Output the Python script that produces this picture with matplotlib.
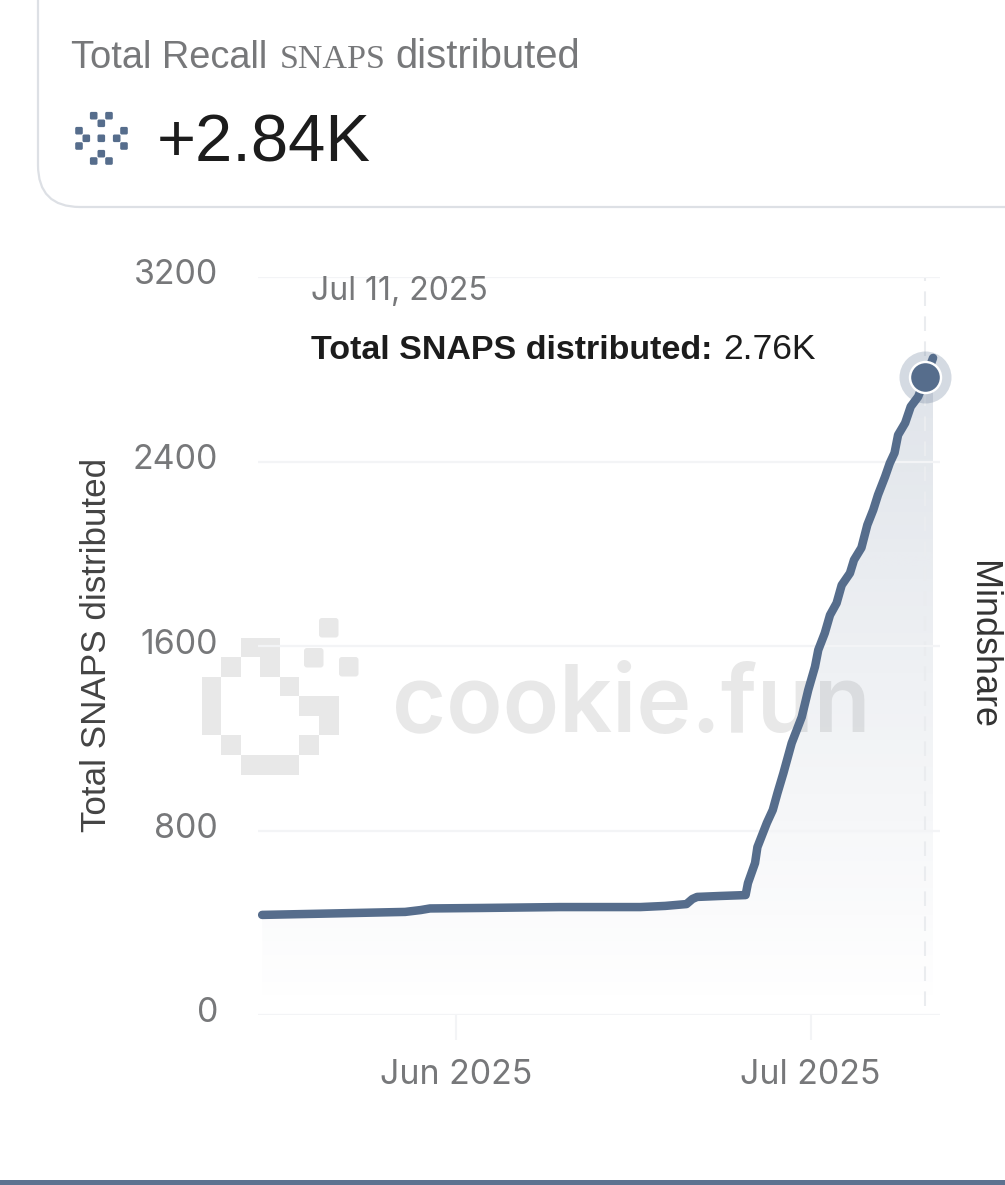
# -*- coding: utf-8 -*-
import pandas as pd
import numpy as np
import matplotlib
matplotlib.use('Agg')
import matplotlib.pyplot as plt
import matplotlib.dates as mdates
from matplotlib.patches import FancyBboxPatch, Rectangle
from matplotlib.transforms import ScaledTranslation

# Chart values
day_offset = [-16.4, -9.8, -4.3, -3.0, -2.2, 2.0, 8.8, 15.6, 17.7, 19.5, 20.0, 20.4, 22.3,
              24.5, 24.7, 25.3, 25.5, 26.3, 26.8, 27.2, 27.7, 28.4, 29.25, 29.8, 30.37,
              30.65, 31.2, 31.64, 32.2, 32.63, 33.33, 33.67, 34.3, 34.8, 35.3, 35.7, 36.3,
              36.7, 37.1, 37.4, 38.0, 38.47, 39.1, 39.75, 40.36]
snaps_total = [434, 441, 447, 455, 462, 464, 468, 468, 473, 481, 503, 512, 516,
               520, 572, 659, 728, 833, 889, 963, 1049, 1179, 1292, 1409, 1510,
               1583, 1656, 1734, 1786, 1864, 1916, 1973, 2026, 2125, 2190, 2255, 2334,
               2393, 2437, 2515, 2567, 2638, 2681, 2766, 2849]
y_ticks = [0, 800, 1600, 2400, 3200]
x_ticks = ['2025-06-01', '2025-07-01']
hover_offset = 39.72
hover_value = 2765

W, H = 1005, 1185
LINE = '#566d8c'
GRID = '#f3f4f6'
GREY = '#77787a'
DARK = '#1c1c1c'
SANS = 'Liberation Sans'
px = 0.72  # pixels to points at dpi 100

dates = pd.Timestamp('2025-06-01') + pd.to_timedelta(day_offset, unit='D')
hover_date = pd.Timestamp('2025-06-01') + pd.to_timedelta(hover_offset, unit='D')

fig = plt.figure(figsize=(W / 100, H / 100), dpi=100, facecolor='white')

# Background layer in pixel coordinates: card, icon, watermark
bg = fig.add_axes([0, 0, 1, 1], zorder=0)
bg.set_xlim(0, W)
bg.set_ylim(H, 0)
bg.axis('off')

card = FancyBboxPatch((38, -60), 1100, 267, boxstyle='round,pad=0,rounding_size=42',
                      fc='white', ec='#dde0e5', lw=1.6)
bg.add_patch(card)
bg.add_patch(Rectangle((0, 1180), W, 5, fc='#5d7290', ec='none'))

icon_cells = [(93.7, 115.7), (109, 115.7), (101.3, 123.3), (79, 130.7), (79, 146), (86.3, 138.3),
              (124, 130.7), (124, 146), (116.7, 138.3), (101.3, 138.3), (101.3, 153.7),
              (93.7, 161), (109, 161)]
for cx, cy in icon_cells:
    bg.add_patch(FancyBboxPatch((cx - 3.8, cy - 3.8), 7.6, 7.6, boxstyle='round,pad=0,rounding_size=1.5',
                                fc=LINE, ec='none'))

# cookie.fun logo drawn from grid cells (col, row, width)
logo_cells = [(2, 0, 2), (1, 1, 1), (3, 1, 1), (0, 2, 1), (4, 2, 1), (0, 3, 1), (5, 3, 2),
              (0, 4, 1), (6, 4, 1), (1, 5, 1), (5, 5, 1), (2, 6, 3)]
cell = 19.55
for col, row, span in logo_cells:
    bg.add_patch(Rectangle((201.7 + col * cell, 637.7 + row * cell), span * cell, cell,
                           fc='#e8e8e8', ec='none'))
for dx, dy in [(319, 618), (304, 648), (339, 657)]:
    bg.add_patch(FancyBboxPatch((dx, dy), 19.5, 19.5, boxstyle='round,pad=0,rounding_size=3',
                                fc='#e8e8e8', ec='none'))
bg.text(392, 708, 'cookie.fun', fontsize=93 * px, family='Inter', weight='semibold',
        color='#e8e8e8', va='center', ha='left')

# Main chart
ax = fig.add_axes([258 / W, 1 - 1015 / H, (940 - 258) / W, (1015 - 277) / H], zorder=1)
ax.patch.set_visible(False)

x0 = pd.Timestamp('2025-06-01') + pd.to_timedelta((258 - 456) / 11.82, unit='D')
x1 = pd.Timestamp('2025-06-01') + pd.to_timedelta((940 - 456) / 11.82, unit='D')

# area under the line with a vertical fade
area = ax.fill_between(dates, snaps_total, 0, color='none')
fade = np.zeros((256, 2, 4))
fade[..., :3] = matplotlib.colors.to_rgb(LINE)
fade[..., 3] = np.linspace(0.19, 0, 256)[:, None]
img = ax.imshow(fade, aspect='auto', zorder=1,
                extent=[mdates.date2num(dates[0]), mdates.date2num(dates[-1]), 20, max(snaps_total)])
clip = area.get_paths()[0]
img.set_clip_path(clip, transform=ax.transData)

ax.plot([hover_date, hover_date], [40, 3200], color='#eaecef', lw=1.5, ls=(0, (7, 5)), zorder=2)
ax.plot(dates, snaps_total, color=LINE, lw=8.5 * px, solid_capstyle='round',
        solid_joinstyle='round', zorder=3)
ax.scatter([hover_date], [hover_value], s=(52 * px) ** 2, color=LINE, alpha=0.25,
           linewidths=0, zorder=4, clip_on=False)
ax.scatter([hover_date], [hover_value], s=(31 * px) ** 2, color=LINE, edgecolors='white',
           linewidths=2.4 * px, zorder=5, clip_on=False)

ax.set_xlim(x0, x1)
ax.set_ylim(0, 3200)
ax.set_xticks(pd.to_datetime(x_ticks))
ax.xaxis.set_major_formatter(mdates.DateFormatter('%b %Y'))
ax.set_yticks(y_ticks)
ax.grid(axis='y', color=GRID, lw=1.6)
ax.set_axisbelow(False)
for s in ax.spines.values():
    s.set_visible(False)
ax.tick_params(axis='y', length=0, pad=40 * px, labelsize=34 * px, labelcolor=GREY)
ax.tick_params(axis='x', length=25 * px, width=1.5, color=GRID, pad=19 * px,
               labelsize=34 * px, labelcolor=GREY)
up = ScaledTranslation(0, 5 / 100, fig.dpi_scale_trans)
for lab in ax.get_yticklabels():
    lab.set_family('Inter')
    lab.set_transform(lab.get_transform() + up)
for lab in ax.get_xticklabels():
    lab.set_family('Inter')


def chain(x, y, parts):
    # lay out text pieces one after another on one baseline (pixel coordinates)
    r = fig.canvas.get_renderer()
    for s, gap, kw in parts:
        t = bg.text(x, y, s, va='baseline', ha='left', **kw)
        x = bg.transData.inverted().transform(t.get_window_extent(r))[1, 0] + gap


chain(71, 67.5, [('Total Recall', 12, dict(fontsize=38 * px, family=SANS, color=GREY)),
                 ('SNAPS', 10, dict(fontsize=34 * px, family='Liberation Serif', color=GREY)),
                 ('distributed', 0, dict(fontsize=40 * px, family=SANS, color=GREY))])
bg.text(157, 162, '+2.84K', fontsize=67 * px, family=SANS, color=DARK, va='baseline', ha='left')

# Tooltip and side labels go above the chart
fg = fig.add_axes([0, 0, 1, 1], zorder=2)
fg.set_xlim(0, W)
fg.set_ylim(H, 0)
fg.axis('off')
fg.text(311, 300, 'Jul 11, 2025', fontsize=32 * px, family='Inter', color=GREY, va='baseline')
fg.text(311, 359, 'Total SNAPS distributed:', fontsize=34 * px, family=SANS, weight='bold',
        color=DARK, va='baseline')
fg.text(723, 359, '2.76K', fontsize=35.5 * px, family=SANS, color=DARK, va='baseline')
fg.text(97, 645, 'Total SNAPS distributed', fontsize=35 * px, family=SANS, color='#444444',
        rotation=90, va='center', ha='center')
fg.text(983, 645, 'Mindshare', fontsize=36 * px, family=SANS, color='#333333',
        rotation=270, va='center', ha='center')

fig.savefig('out.png', dpi=100)
